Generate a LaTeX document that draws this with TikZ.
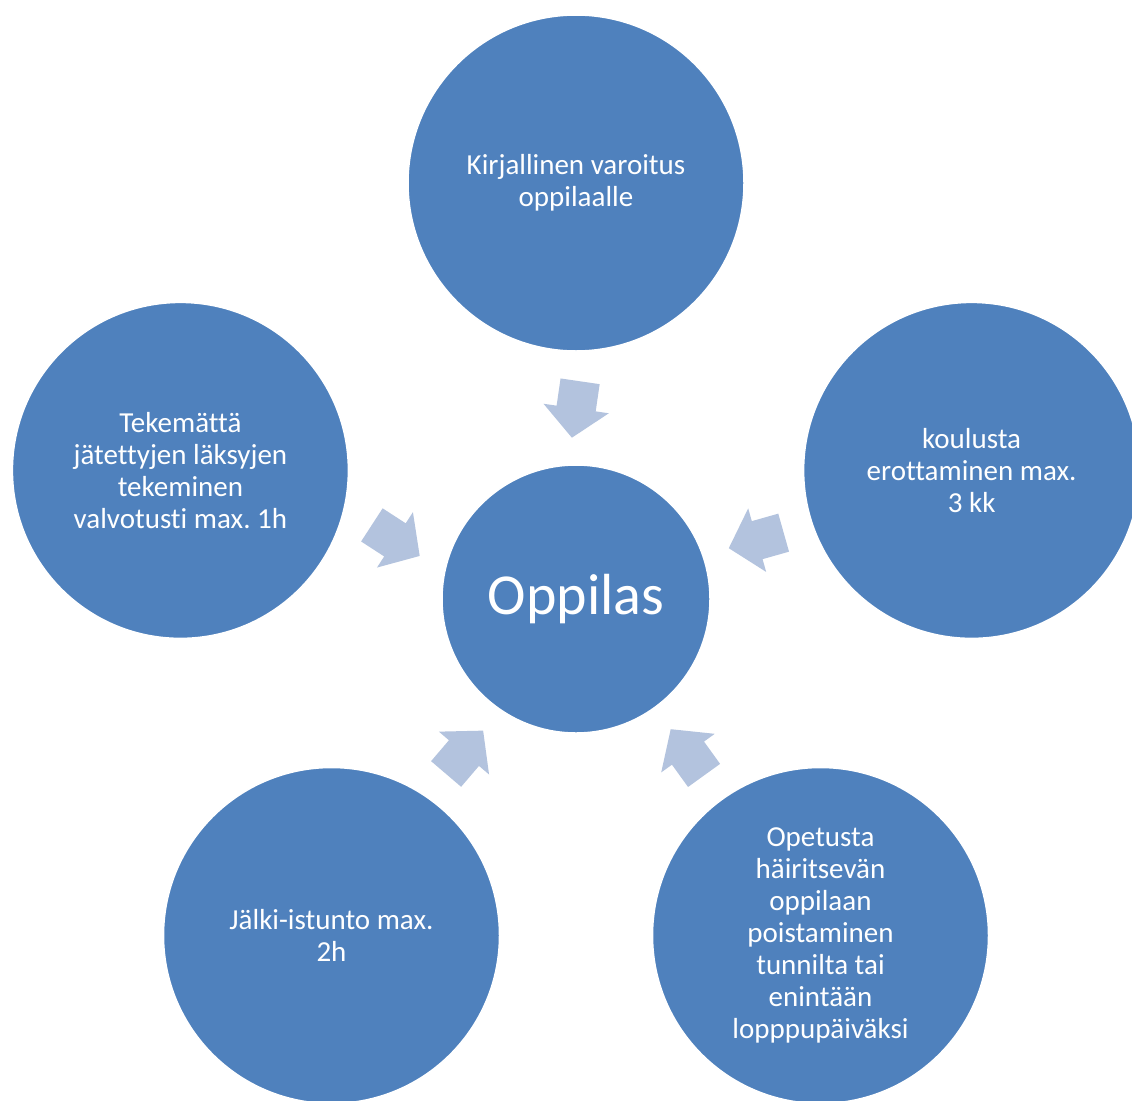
\documentclass[tikz,border=0pt]{standalone}
\usepackage{fontspec}
\setmainfont{Carlito}[Ligatures={NoCommon}]
\frenchspacing
\usetikzlibrary{calc}
\definecolor{discfill}{HTML}{4F81BD}
\definecolor{arrowfill}{HTML}{B3C3DE}
\begin{document}
\begin{tikzpicture}[x=1pt,y=-1pt,
  disc/.style={circle, fill=discfill, draw=white, line width=1.5pt, text=white,
    align=center, inner sep=0pt, font=\fontsize{29}{32}\selectfont},
  satdisc/.style={disc, minimum size=336pt},
  hubdisc/.style={disc, minimum size=268pt, font=\fontsize{58}{64}\selectfont},
  barrow/.pic={
    \fill[arrowfill] (-28.5,-19.75) -- (-1,-19.75) -- (-1,-33) -- (28.5,0)
      -- (-1,33) -- (-1,19.75) -- (-28.5,19.75) -- cycle;
  }]
\useasboundingbox (0,0) rectangle (1132,1100);
\clip (0,0) rectangle (1132,1100);
\fill[white] (0,0) rectangle (1132,1100);

% hub and the five satellites on a regular pentagon
\node[hubdisc] (hub) at (576,599) {Oppilas};
\node[satdisc] (top) at (576,183) {Kirjallinen varoitus\\oppilaalle};
\node[satdisc] (left) at (180.4,470.4) {Tekemättä\\jätettyjen läksyjen\\tekeminen\\valvotusti max. 1h};
\node[satdisc] (right) at (971.6,470.4) {koulusta\\erottaminen max.\\3 kk};
\node[satdisc] (botleft) at (331.5,935.5) {Jälki-istunto max.\\2h};
\node[satdisc] (botright) at (820.5,935.5) {Opetusta\\häiritsevän\\oppilaan\\poistaminen\\tunnilta tai\\enintään\\lopppupäiväksi};

% block arrows pointing from each satellite towards the hub
\pic[rotate=-98.3] at ($(hub.center)!189.5pt!(top.center)$) {barrow};
\pic[rotate=-33] at ($(hub.center)!189.5pt!(left.center)$) {barrow};
\pic[rotate=195.8] at ($(hub.center)!189.5pt!(right.center)$) {barrow};
\pic[rotate=49.5] at ($(hub.center)!189.5pt!(botleft.center)$) {barrow};
\pic[rotate=125.8] at ($(hub.center)!189.5pt!(botright.center)$) {barrow};
\end{tikzpicture}
\end{document}
